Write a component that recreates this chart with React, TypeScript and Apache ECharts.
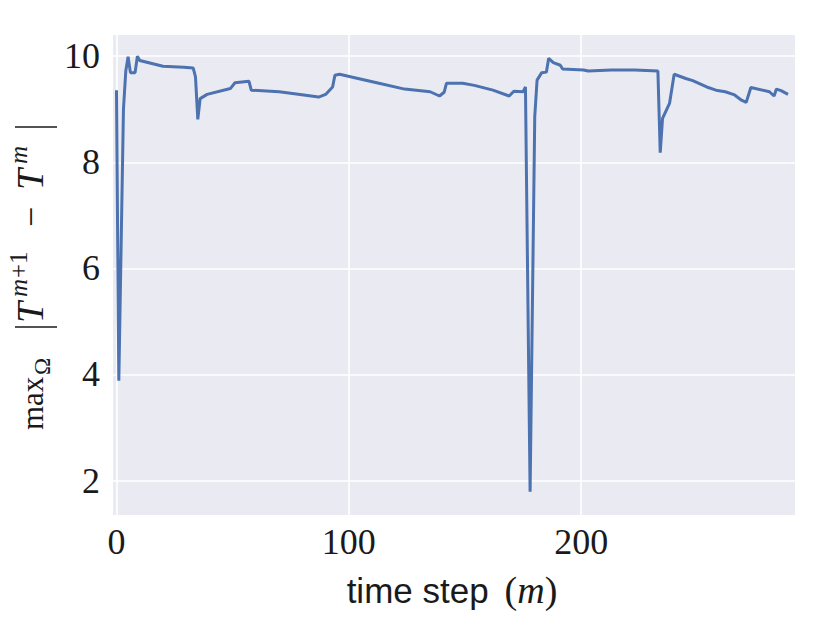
import React, { useEffect, useRef } from "react";
import * as echarts from "echarts";

const steps = [0, 1, 3, 4, 5, 6, 8, 9, 10, 20, 29, 33, 34, 35, 36, 39, 49, 51, 57, 58, 70, 79, 87, 90, 93, 94, 96, 103, 112, 124, 135, 139, 141, 142, 149, 154, 162, 169, 171, 175, 176, 178, 180, 181, 183, 185, 186, 188, 191, 192, 201, 203, 213, 223, 233, 234, 235, 238, 240, 245, 248, 254, 258, 262, 266, 269, 271, 273, 281, 283, 284, 286, 289];
const maxDiff = [9.36, 3.88, 9.0, 9.72, 9.99, 9.69, 9.69, 10.0, 9.92, 9.81, 9.79, 9.78, 9.61, 8.81, 9.2, 9.28, 9.39, 9.5, 9.53, 9.36, 9.33, 9.28, 9.23, 9.28, 9.42, 9.64, 9.66, 9.59, 9.5, 9.38, 9.33, 9.25, 9.32, 9.49, 9.49, 9.45, 9.36, 9.25, 9.34, 9.33, 9.42, 1.79, 8.86, 9.55, 9.69, 9.7, 9.96, 9.88, 9.83, 9.76, 9.74, 9.72, 9.74, 9.74, 9.72, 8.18, 8.83, 9.11, 9.66, 9.58, 9.54, 9.42, 9.36, 9.33, 9.27, 9.17, 9.13, 9.41, 9.33, 9.25, 9.38, 9.35, 9.28];
const xTicks = [0, 100, 200];
const yTicks = [2, 4, 6, 8, 10];

const SERIF = "'Liberation Serif', 'DejaVu Serif', serif";
const SANS = "'Liberation Sans', 'DejaVu Sans', sans-serif";
const TXT = "#1a1a1a";

export default function App() {
  const ref = useRef<HTMLDivElement>(null);
  useEffect(() => {
    if (!ref.current) return;
    const chart = echarts.init(ref.current, undefined, { renderer: "svg" });
    const data = steps.map((s, i) => [s, maxDiff[i]]);
    const t = (text: string, x: number, fs: number, dy: number, italic = false) => ({
      type: "text",
      x,
      y: dy + 0.16 * fs,
      style: {
        text,
        fill: TXT,
        font: `${italic ? "italic " : ""}${fs}px ${SERIF}`,
        align: "left",
        verticalAlign: "bottom",
      },
    });
    chart.setOption({
      animation: false,
      backgroundColor: "#ffffff",
      grid: {
        left: 113,
        right: 35,
        top: 35,
        bottom: 108,
        show: true,
        backgroundColor: "#EAEAF2",
        borderWidth: 0,
      },
      xAxis: {
        type: "value",
        min: -1.5,
        max: 292,
        axisLine: { show: false },
        axisTick: { show: false, customValues: xTicks },
        axisLabel: {
          customValues: xTicks,
          fontFamily: SERIF,
          fontSize: 36,
          color: TXT,
          margin: 9,
        },
        splitLine: { show: true, lineStyle: { color: "#ffffff", width: 1.6 } },
      },
      yAxis: {
        type: "value",
        min: 1.35,
        max: 10.4,
        axisLine: { show: false },
        axisTick: { show: false, customValues: yTicks },
        axisLabel: {
          customValues: yTicks,
          fontFamily: SERIF,
          fontSize: 36,
          color: TXT,
          margin: 13,
        },
        splitLine: { show: true, lineStyle: { color: "#ffffff", width: 1.6 } },
      },
      series: [
        {
          type: "line",
          data,
          showSymbol: false,
          symbol: "none",
          lineStyle: { color: "#4C72B0", width: 3 },
          itemStyle: { color: "#4C72B0" },
        },
      ],
      graphic: [
        {
          type: "text",
          x: 452,
          y: 590,
          style: {
            text: "{a|time step}{s| }{b|(}{c|m}{b|)}",
            align: "center",
            verticalAlign: "middle",
            rich: {
              a: { fontFamily: SANS, fontSize: 35, fill: TXT },
              s: { fontFamily: SANS, fontSize: 35, width: 16, fill: TXT },
              b: { fontFamily: SERIF, fontSize: 38, fill: TXT },
              c: { fontFamily: SERIF, fontSize: 38, fontStyle: "italic", fill: TXT },
            },
          },
        },
        {
          type: "group",
          x: 43,
          y: 427,
          rotation: Math.PI / 2,
          children: [
            t("max", -3, 31, 0),
            t("Ω", 52, 23, 7),
            { type: "line", shape: { x1: 100, y1: -28, x2: 100, y2: 14 }, style: { stroke: TXT, lineWidth: 1.3 } },
            t("T", 104, 38, 0, true),
            t("m", 130, 25, -16, true),
            t("+1", 149, 25, -16),
            t("−", 200, 36, 0),
            t("T", 237, 38, 0, true),
            t("m", 263, 25, -16, true),
            { type: "line", shape: { x1: 300, y1: -28, x2: 300, y2: 14 }, style: { stroke: TXT, lineWidth: 1.3 } },
          ],
        },
      ],
    });
    return () => chart.dispose();
  }, []);
  return <div ref={ref} style={{ width: 830, height: 623, position: "absolute", left: 0, top: 0 }} />;
}
